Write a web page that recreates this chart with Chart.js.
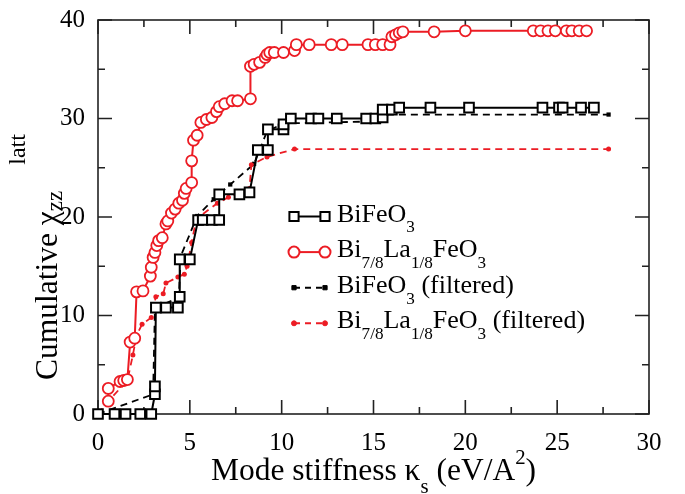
<!DOCTYPE html>
<html>
<head>
<meta charset="utf-8">
<script src="https://cdn.jsdelivr.net/npm/chart.js@4.4.0/dist/chart.umd.min.js"></script>
<style>
  html, body { margin: 0; padding: 0; background: #fff; }
  #wrap { position: relative; width: 685px; height: 494px; }
</style>
</head>
<body>
<div id="wrap"><canvas id="myChart"></canvas></div>
<script>
// BiFeO3 (open squares, solid line)
const bfoX = [0, 0.9, 1.5, 2.3, 2.9, 3.1, 3.1, 3.15, 3.7, 4.35, 4.45, 4.45, 5.0, 5.45, 5.7, 6.2, 6.6, 6.6, 7.7, 8.25,
  8.7, 9.25, 9.25, 10.1, 10.1, 10.5, 11.6, 12.0, 13.0, 14.6, 15.1, 15.5, 15.5, 16.0, 16.4, 18.1, 20.2, 24.2, 25.1, 25.3, 26.3, 27.0];
const bfoY = [0, 0, 0, 0, 0, 2.0, 2.8, 10.8, 10.8, 10.8, 11.9, 15.7, 15.7, 19.7, 19.7, 19.7, 19.7, 22.3, 22.3, 22.5,
  26.8, 26.8, 28.9, 28.9, 29.4, 30.0, 30.0, 30.0, 30.0, 30.0, 30.0, 30.1, 30.9, 30.9, 31.1, 31.1, 31.1, 31.1, 31.1, 31.1, 31.1, 31.1];

// Bi7/8La1/8FeO3 (open circles, solid line)
const blfoX = [0.56, 0.56, 1.2, 1.4, 1.6, 1.75, 2.0, 2.1, 2.45, 2.85, 2.9, 3.0, 3.1, 3.2, 3.3, 3.5, 3.7, 3.8, 4.0, 4.2,
  4.4, 4.6, 4.7, 4.8, 5.1, 5.1, 5.2, 5.4, 5.6, 5.9, 6.2, 6.45, 6.6, 6.9, 7.3, 7.6, 8.3, 8.3, 8.5, 8.8,
  9.1, 9.2, 9.35, 9.6, 10.1, 10.7, 10.8, 11.5, 12.7, 13.3, 14.7, 15.1, 15.5, 15.9, 16.0, 16.2, 16.4, 16.6, 18.3, 20.0,
  23.7, 24.1, 24.5, 24.9, 25.5, 25.8, 26.2, 26.6];
const blfoY = [1.3, 2.6, 3.3, 3.4, 3.5, 7.3, 7.7, 12.4, 12.5, 14.0, 14.9, 15.9, 16.4, 17.1, 17.6, 17.9, 19.3, 19.6, 20.4, 20.8,
  21.4, 21.7, 22.4, 22.9, 23.5, 25.7, 27.8, 28.3, 29.6, 29.9, 30.1, 30.7, 31.2, 31.5, 31.8, 31.8, 32.0, 35.3, 35.5, 35.7,
  36.2, 36.5, 36.7, 36.7, 36.7, 36.9, 37.5, 37.5, 37.5, 37.5, 37.5, 37.5, 37.5, 37.5, 38.3, 38.5, 38.7, 38.8, 38.8, 38.9,
  38.9, 38.9, 38.9, 38.9, 38.9, 38.9, 38.9, 38.9];

// BiFeO3 (filtered)
const bfoFiltX = [0, 3.0, 3.1, 4.4, 4.5, 5.4, 6.3, 7.2, 8.5, 9.2, 10.1, 15.0, 15.6, 27.8];
const bfoFiltY = [0, 2.0, 10.8, 11.8, 16.0, 20.1, 21.8, 23.3, 25.4, 28.7, 29.5, 29.7, 30.4, 30.4];

// Bi7/8La1/8FeO3 (filtered)
const blfoFiltX = [0, 0.56, 1.6, 1.9, 2.1, 2.4, 2.9, 3.15, 3.55, 3.7, 4.35, 4.7, 4.85, 5.1, 5.35, 6.5, 7.1, 8.25, 8.35, 9.2, 10.7, 27.8];
const blfoFiltY = [0, 1.3, 3.4, 6.0, 8.0, 9.1, 9.8, 11.9, 12.2, 13.3, 13.9, 14.2, 15.0, 17.4, 19.8, 21.4, 22.0, 22.9, 25.3, 26.1, 26.9, 26.9];

const xTicks = [0, 5, 10, 15, 20, 25, 30];
const yTicks = [0, 10, 20, 30, 40];

const RED = 'rgb(236,28,36)';
const FONT = "'Liberation Serif', serif";

const pts = (xs, ys) => xs.map((x, i) => ({x: x, y: ys[i]}));

// text with sub/superscripts: parts = [[text, kind]], kind: n | sub | sup
function drawRich(ctx, parts, x, y, size) {
    for (const [t, k] of parts) {
        const s = k === 'n' ? size : size * 0.66;
        const dy = k === 'sub' ? size * 0.42 : (k === 'sup' ? -size * 0.5 : 0);
        ctx.font = s + 'px ' + FONT;
        ctx.fillText(t, x, y + dy);
        x += ctx.measureText(t).width;
    }
    return x;
}

const legendItems = [
    {parts: [['BiFeO', 'n'], ['3', 'sub']], color: '#000', style: 'rect', r: 6.5, fill: '#fff', bw: 2, dash: []},
    {parts: [['Bi', 'n'], ['7/8', 'sub'], ['La', 'n'], ['1/8', 'sub'], ['FeO', 'n'], ['3', 'sub']], color: RED, style: 'circle', r: 5.5, fill: '#fff', bw: 2, dash: []},
    {parts: [['BiFeO', 'n'], ['3', 'sub'], [' (filtered)', 'n']], color: '#000', style: 'rect', r: 3, fill: '#000', bw: 1, dash: [6, 5]},
    {parts: [['Bi', 'n'], ['7/8', 'sub'], ['La', 'n'], ['1/8', 'sub'], ['FeO', 'n'], ['3', 'sub'], [' (filtered)', 'n']], color: RED, style: 'circle', r: 2.5, fill: RED, bw: 1, dash: [6, 5]}
];

const framePlugin = {
    id: 'frame',
    beforeDatasetsDraw(chart) {
        const {ctx, chartArea: a, scales: {x, y}} = chart;
        ctx.save();
        ctx.strokeStyle = '#222';
        ctx.lineWidth = 1.6;
        ctx.strokeRect(a.left, a.top, a.right - a.left, a.bottom - a.top);
        ctx.beginPath();
        for (let v = 0; v <= 30; v += 2.5) {
            const px = x.getPixelForValue(v);
            const len = v % 5 === 0 ? 14 : 7;
            ctx.moveTo(px, a.bottom); ctx.lineTo(px, a.bottom - len);
            ctx.moveTo(px, a.top); ctx.lineTo(px, a.top + len);
        }
        for (let v = 0; v <= 40; v += 5) {
            const py = y.getPixelForValue(v);
            const len = v % 10 === 0 ? 14 : 7;
            ctx.moveTo(a.left, py); ctx.lineTo(a.left + len, py);
            ctx.moveTo(a.right, py); ctx.lineTo(a.right - len, py);
        }
        ctx.stroke();
        ctx.restore();
    },
    afterDraw(chart) {
        const {ctx, chartArea: a} = chart;
        ctx.save();
        ctx.fillStyle = '#000';
        ctx.textBaseline = 'alphabetic';
        ctx.textAlign = 'left';

        // x title
        const xParts = [['Mode stiffness \u03ba', 'n'], ['s', 'sub'], [' (eV/A', 'n'], ['2', 'sup'], [')', 'n']];
        ctx.save();
        const w = drawRich(ctx, xParts, -9999, -9999, 31.5) + 9999;
        ctx.restore();
        drawRich(ctx, xParts, (a.left + a.right) / 2 - w / 2, 480, 31.5);

        // y title: xmgrace-style, superscript follows the subscript
        ctx.save();
        ctx.translate(57, 380);
        ctx.rotate(-Math.PI / 2);
        let p = drawRich(ctx, [['Cumulative \u03c7', 'n']], 0, 0, 31.5);
        ctx.font = '23px ' + FONT;
        ctx.fillText('zz', p, 5);
        p += ctx.measureText('zz').width;
        ctx.font = '24px ' + FONT;
        ctx.fillText('latt', p + 26, -32);
        ctx.restore();

        // legend
        const x1 = 294, x2 = 325, tx = 337;
        legendItems.forEach((it, i) => {
            const ly = 216.5 + i * 35.6;
            ctx.save();
            ctx.strokeStyle = it.color;
            ctx.lineWidth = 2;
            ctx.setLineDash(it.dash);
            ctx.beginPath();
            ctx.moveTo(x1, ly); ctx.lineTo(x2, ly);
            ctx.stroke();
            ctx.setLineDash([]);
            ctx.fillStyle = it.fill;
            ctx.lineWidth = it.bw;
            Chart.helpers.drawPoint(ctx, {pointStyle: it.style, radius: it.r, borderWidth: it.bw, rotation: 0}, x1, ly);
            Chart.helpers.drawPoint(ctx, {pointStyle: it.style, radius: it.r, borderWidth: it.bw, rotation: 0}, x2, ly);
            ctx.restore();
            ctx.fillStyle = '#000';
            drawRich(ctx, it.parts, tx, ly + 5, 26);
        });
        ctx.restore();
    }
};

function makeChart() {
    const ctx = document.getElementById('myChart').getContext('2d');
    return new Chart(ctx, {
        type: 'line',
        data: {
            datasets: [
                {
                    label: 'Bi7/8La1/8FeO3',
                    data: pts(blfoX, blfoY),
                    borderColor: RED,
                    borderWidth: 2,
                    pointStyle: 'circle',
                    pointRadius: 5.5,
                    pointBorderWidth: 1.8,
                    pointBorderColor: RED,
                    pointBackgroundColor: '#fff',
                    clip: false,
                    order: 1
                },
                {
                    label: 'BiFeO3',
                    data: pts(bfoX, bfoY),
                    borderColor: '#000',
                    borderWidth: 2,
                    pointStyle: 'rect',
                    pointRadius: 6.8,
                    pointBorderWidth: 2,
                    pointBorderColor: '#000',
                    pointBackgroundColor: '#fff',
                    clip: false,
                    order: 2
                },
                {
                    label: 'Bi7/8La1/8FeO3 (filtered)',
                    data: pts(blfoFiltX, blfoFiltY),
                    borderColor: RED,
                    borderWidth: 1.8,
                    borderDash: [7, 5],
                    pointStyle: 'circle',
                    pointRadius: 2.5,
                    pointBorderWidth: 0,
                    pointBackgroundColor: RED,
                    clip: false,
                    order: 3
                },
                {
                    label: 'BiFeO3 (filtered)',
                    data: pts(bfoFiltX, bfoFiltY),
                    borderColor: '#000',
                    borderWidth: 1.8,
                    borderDash: [7, 5],
                    pointStyle: 'rect',
                    pointRadius: 3,
                    pointBorderWidth: 0,
                    pointBackgroundColor: '#000',
                    clip: false,
                    order: 4
                }
            ]
        },
        options: {
            responsive: true,
            maintainAspectRatio: false,
            animation: false,
            layout: {padding: {top: 14, right: 36, left: 0, bottom: 0}},
            plugins: {legend: {display: false}, tooltip: {enabled: false}},
            elements: {line: {tension: 0, fill: false}},
            scales: {
                x: {
                    type: 'linear',
                    min: 0, max: 30,
                    afterBuildTicks: s => { s.ticks = xTicks.map(v => ({value: v})); },
                    ticks: {color: '#000', font: {family: FONT, size: 25}, padding: 6, maxRotation: 0},
                    grid: {display: false},
                    border: {display: false},
                    afterFit: s => { s.height = 80; }
                },
                y: {
                    type: 'linear',
                    min: 0, max: 40,
                    afterBuildTicks: s => { s.ticks = yTicks.map(v => ({value: v})); },
                    ticks: {color: '#000', font: {family: FONT, size: 25}, padding: 5},
                    grid: {display: false},
                    border: {display: false},
                    afterFit: s => { s.width = 98; }
                }
            }
        },
        plugins: [framePlugin]
    });
}

Promise.all([
    document.fonts.load("25px 'Liberation Serif'"),
    document.fonts.load("31px 'Liberation Serif'")
]).catch(() => {}).then(() => { window.myChart = makeChart(); });
</script>
</body>
</html>
